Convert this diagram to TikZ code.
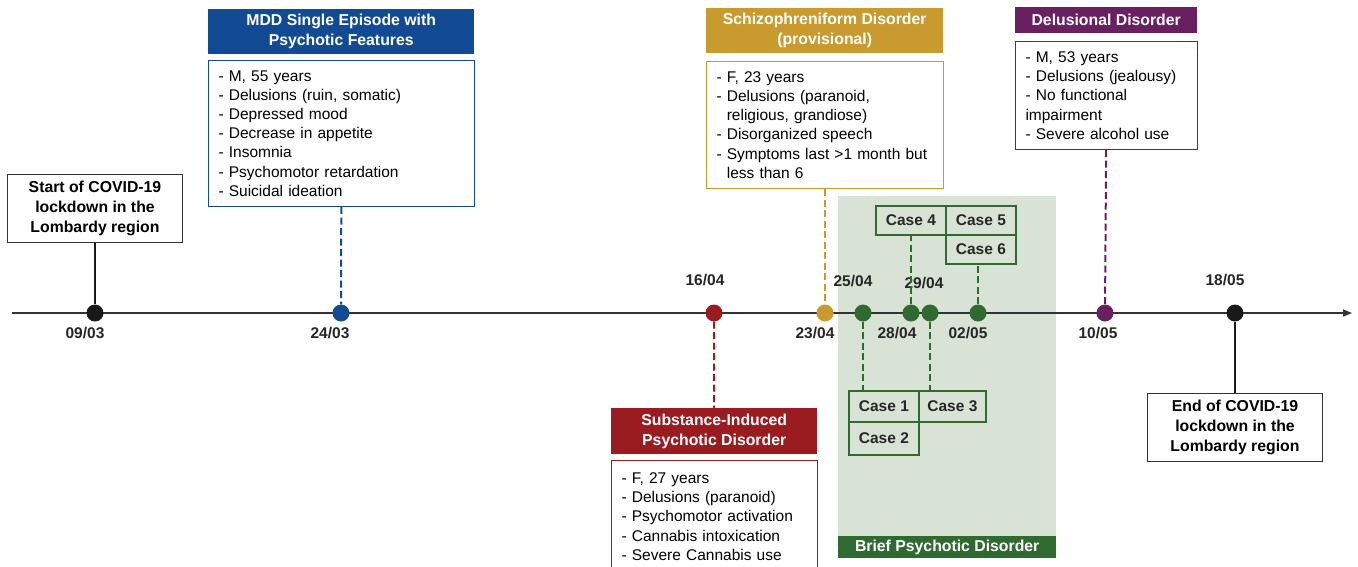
\documentclass[tikz,border=0pt]{standalone}
\usepackage{fontspec}
\setmainfont{Liberation Sans}
\usetikzlibrary{arrows.meta}
\usetikzlibrary{positioning}
\usepackage{xcolor}
\definecolor{mddblue}{HTML}{124B94}
\definecolor{schgold}{HTML}{C99A2E}
\definecolor{delpurple}{HTML}{6A1F62}
\definecolor{subred}{HTML}{9A1B20}
\definecolor{bpdgreen}{HTML}{2F6A31}
\definecolor{bpdshade}{HTML}{D8E3D6}
\definecolor{axisgray}{HTML}{333333}
\newcommand{\ind}{\phantom{- }}

\begin{document}
\begin{tikzpicture}[x=1pt,y=-1pt,font=\fontsize{15.5}{19.2}\selectfont,
  head/.style={fill=#1,text=white,font=\bfseries\fontsize{15.8}{20}\selectfont,
    align=center,inner sep=0pt,anchor=north west},
  body/.style={draw=#1,line width=1pt,fill=white,align=left,inner xsep=10pt,
    inner ysep=0pt,anchor=north west},
  evbox/.style={draw=black!80,line width=1pt,fill=white,align=center,
    font=\bfseries\fontsize{15.8}{20}\selectfont,minimum width=175pt,
    minimum height=68pt,inner sep=0pt},
  dot/.style={circle,fill=#1,inner sep=0pt,minimum size=17pt},
  date/.style={font=\bfseries\fontsize{15.5}{18}\selectfont,text=black!85},
  casebox/.style={draw=bpdgreen,line width=1.8pt,
    font=\bfseries\fontsize{15.5}{18}\selectfont,text=black!85,
    minimum width=70pt,minimum height=29pt,inner sep=0pt,anchor=north west},
  link/.style={draw=#1,line width=2pt,dash pattern=on 7pt off 3.5pt},
  stem/.style={draw=black!90,line width=2pt}]
\useasboundingbox (0,0) rectangle (1358,566);

% brief psychotic disorder band
\fill[bpdshade] (838,196) rectangle (1056,536);
\node[head=bpdgreen,minimum width=218pt,minimum height=22pt] (bpd) at (838,536)
  {Brief Psychotic Disorder};

% timeline
\coordinate (t0) at (12,313);
\coordinate (t1) at (1352,313);
\draw[axisgray,line width=1.5pt,-{Triangle[length=9pt,width=7pt]}] (t0) -- (t1);

% events on the axis
\node[dot=black!90]   (d0903) at (95,313) {};
\node[dot=mddblue]    (d2403) at (341,313) {};
\node[dot=subred]     (d1604) at (714,313) {};
\node[dot=schgold]    (d2304) at (825,313) {};
\node[dot=bpdgreen]   (d2504) at (863,313) {};
\node[dot=bpdgreen]   (d2804) at (911,313) {};
\node[dot=bpdgreen]   (d2904) at (930,313) {};
\node[dot=bpdgreen]   (d0205) at (978,313) {};
\node[dot=delpurple]  (d1005) at (1105,313) {};
\node[dot=black!90]   (d1805) at (1235,313) {};

\node[date] (l0903) at (85,333) {09/03};
\node[date] (l2403) at (330,333) {24/03};
\node[date] (l1604) at (705,280) {16/04};
\node[date] (l2304) at (815,333) {23/04};
\node[date] (l2504) at (853,281) {25/04};
\node[date] (l2804) at (897,333) {28/04};
\node[date] (l2904) at (924,283) {29/04};
\node[date] (l0205) at (968,333) {02/05};
\node[date] (l1005) at (1098,333) {10/05};
\node[date] (l1805) at (1225,280) {18/05};

% lockdown start and end
\node[evbox] (start) at (95,208) {Start of COVID-19\\lockdown in the\\Lombardy region};
\node[evbox] (end) at (1235,427) {End of COVID-19\\lockdown in the\\Lombardy region};
\draw[stem] (start) -- (d0903);
\draw[stem] (d1805) -- (end);

% MDD
\node[head=mddblue,minimum width=266pt,minimum height=45pt] (mddh) at (208,9)
  {MDD Single Episode with\\Psychotic Features};
\node[body=mddblue,text width=246pt,minimum height=146pt] (mddb) at (208,60)
  {- M, 55 years\\- Delusions (ruin, somatic)\\- Depressed mood\\
   - Decrease in appetite\\- Insomnia\\- Psychomotor retardation\\
   - Suicidal ideation};
\draw[link=mddblue] (mddb) -- (d2403);

% schizophreniform
\node[head=schgold,minimum width=237pt,minimum height=45pt] (schh) at (706,8)
  {Schizophreniform Disorder\\(provisional)};
\node[body=schgold,text width=217pt,minimum height=127pt] (schb) at (706,61)
  {- F, 23 years\\- Delusions (paranoid,\\\ind religious, grandiose)\\
   - Disorganized speech\\- Symptoms last >1 month but\\\ind less than 6};
\draw[link=schgold] (schb) -- (d2304);

% delusional
\node[head=delpurple,minimum width=182pt,minimum height=26pt] (delh) at (1015,7)
  {Delusional Disorder};
\node[body=delpurple,text width=162pt,minimum height=108pt] (delb) at (1015,41)
  {- M, 53 years\\- Delusions (jealousy)\\- No functional\\impairment\\
   - Severe alcohol use};
\draw[link=delpurple] (delb) -- (d1005);

% substance-induced
\node[head=subred,minimum width=206pt,minimum height=46pt] (subh) at (611,408)
  {Substance-Induced\\Psychotic Disorder};
\node[body=subred,text width=186pt,minimum height=112pt] (subb) at (611,460)
  {- F, 27 years\\- Delusions (paranoid)\\- Psychomotor activation\\
   - Cannabis intoxication\\- Severe Cannabis use};
\draw[link=subred] (d1604) -- (subh);

% brief psychotic cases
\node[casebox] (c4) at (875,205) {Case 4};
\node[casebox] (c5) at (945,205) {Case 5};
\node[casebox] (c6) at (945,234) {Case 6};
\node[casebox,minimum height=31pt] (c1) at (848,390) {Case 1};
\node[casebox,minimum width=67pt,minimum height=31pt] (c3) at (918,390) {Case 3};
\node[casebox,minimum height=33pt] (c2) at (848,421) {Case 2};
\draw[link=bpdgreen] (d2504) -- (d2504 |- c1.north);
\draw[link=bpdgreen] (d2804) -- (d2804 |- c4.south);
\draw[link=bpdgreen] (d2904) -- (d2904 |- c3.north);
\draw[link=bpdgreen] (d0205) -- (d0205 |- c6.south);
\end{tikzpicture}
\end{document}
